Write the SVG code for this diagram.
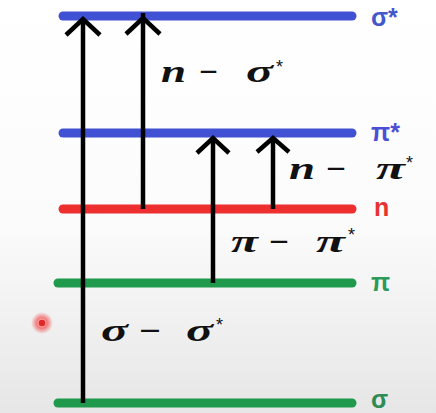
<svg xmlns="http://www.w3.org/2000/svg" width="436" height="413" viewBox="0 0 436 413">
<defs>
<linearGradient id="bg" x1="0" y1="0" x2="0" y2="1">
<stop offset="0" stop-color="#ffffff"/>
<stop offset="0.55" stop-color="#fbfbfb"/>
<stop offset="1" stop-color="#e6e6e6"/>
</linearGradient>
<radialGradient id="glow">
<stop offset="0.35" stop-color="#f05050" stop-opacity="0.9"/>
<stop offset="1" stop-color="#f05050" stop-opacity="0"/>
</radialGradient>
<style>
.lvl{stroke-width:9;stroke-linecap:round;fill:none}
.blue{stroke:#4051d4}
.red{stroke:#ee2f2f}
.green{stroke:#1f9a4c}
.ar{stroke:#000;stroke-width:4.5;fill:none;stroke-linejoin:miter}
.m{font-family:"Liberation Serif",serif;font-weight:bold;font-style:italic;font-size:31px;fill:#111}
.mm{font-family:"Liberation Serif",serif;font-weight:bold;font-size:31px;fill:#111}
.st{font-family:"Liberation Sans",sans-serif;font-size:18px;fill:#111}
.lab{font-family:"Liberation Sans","DejaVu Sans",sans-serif;font-weight:bold;font-size:25px}
</style>
</defs>
<rect width="436" height="413" fill="url(#bg)"/>
<g id="pointer">
<circle cx="42" cy="323" r="11" fill="url(#glow)"/>
<circle cx="42" cy="323" r="4" fill="#e02828" stroke="#ff9a9a" stroke-width="1.5"/>
</g>
<g id="level-sigma-star">
<line class="lvl blue" x1="63" y1="16" x2="352" y2="16"/>
<text class="lab" x="371" y="26" fill="#4358cc">σ*</text>
</g>
<g id="level-pi-star">
<line class="lvl blue" x1="63" y1="133" x2="352" y2="133"/>
<text class="lab" x="371" y="141" fill="#4a4fd6">π*</text>
</g>
<g id="level-n">
<line class="lvl red" x1="63" y1="209" x2="352" y2="209"/>
<text class="lab" x="374" y="216" fill="#e8322f">n</text>
</g>
<g id="level-pi">
<line class="lvl green" x1="58" y1="283" x2="352" y2="283"/>
<text class="lab" x="371" y="291" fill="#2e9a5a">π</text>
</g>
<g id="level-sigma">
<line class="lvl green" x1="58" y1="403" x2="352" y2="403"/>
<text class="lab" x="371" y="408" fill="#2d8c55">σ</text>
</g>
<g id="connectors">
<line class="ar" x1="83" y1="403" x2="83" y2="19"/>
<polyline class="ar" points="66,35 83,19 100,35"/>
<line class="ar" x1="143" y1="209" x2="143" y2="13"/>
<polyline class="ar" points="126,34 143,18 160,34"/>
<line class="ar" x1="213" y1="283" x2="213" y2="138"/>
<polyline class="ar" points="197,153 213,138 229,153"/>
<line class="ar" x1="273" y1="209" x2="273" y2="138"/>
<polyline class="ar" points="257,152 273,138 289,152"/>
</g>
<g id="label-n-sigma">
<text class="m" x="161" y="82" textLength="25" lengthAdjust="spacingAndGlyphs">n</text>
<text class="mm" x="199" y="82" textLength="19" lengthAdjust="spacingAndGlyphs">−</text>
<text class="m" x="246" y="82" textLength="27" lengthAdjust="spacingAndGlyphs">σ</text>
<text class="st" x="276" y="73">*</text>
</g>
<g id="label-n-pi">
<text class="m" x="289" y="179" textLength="26" lengthAdjust="spacingAndGlyphs">n</text>
<text class="mm" x="326" y="179" textLength="20" lengthAdjust="spacingAndGlyphs">−</text>
<text class="m" x="376" y="179" textLength="29" lengthAdjust="spacingAndGlyphs">π</text>
<text class="st" x="406" y="169">*</text>
</g>
<g id="label-pi-pi">
<text class="m" x="231" y="252" textLength="27" lengthAdjust="spacingAndGlyphs">π</text>
<text class="mm" x="269" y="252" textLength="20" lengthAdjust="spacingAndGlyphs">−</text>
<text class="m" x="316" y="252" textLength="29" lengthAdjust="spacingAndGlyphs">π</text>
<text class="st" x="348" y="241">*</text>
</g>
<g id="label-sigma-sigma">
<text class="m" x="101" y="341" textLength="27" lengthAdjust="spacingAndGlyphs">σ</text>
<text class="mm" x="139" y="341" textLength="22" lengthAdjust="spacingAndGlyphs">−</text>
<text class="m" x="186" y="341" textLength="27" lengthAdjust="spacingAndGlyphs">σ</text>
<text class="st" x="216" y="331">*</text>
</g>
</svg>
